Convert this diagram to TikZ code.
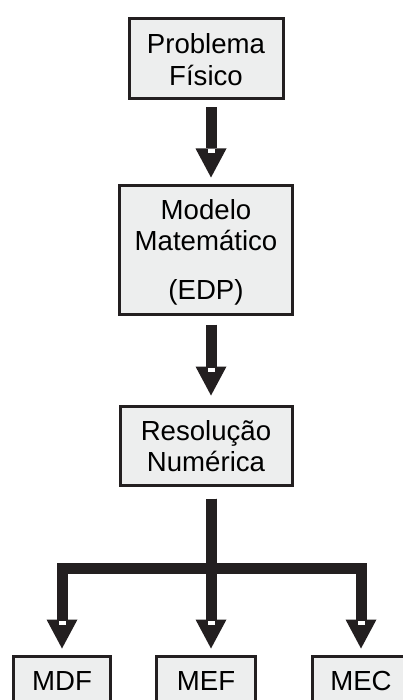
\documentclass[tikz,border=0pt]{standalone}
\usepackage{fontspec}
\setmainfont{Liberation Sans}
\usetikzlibrary{arrows.meta,calc}
\definecolor{boxfill}{HTML}{EDEEEE}
\definecolor{ink}{HTML}{231F20}
\newcommand\drawnotch[2]{\fill[white] ($(#1)+(-3.5,-#2-28)$) rectangle ($(#1)+(3.5,-#2-24)$);}
\begin{document}
\begin{tikzpicture}[x=1pt,y=-1pt,
  box/.style={draw=ink, line width=3pt, fill=boxfill, align=center, inner sep=0pt,
    font=\fontsize{27.6}{31.5}\selectfont, text=black},
  fat/.style={draw=ink, line width=11pt, line cap=butt},
  fatarrow/.style={fat, -{Triangle[width=31pt,length=29pt,line width=0pt 0 0]}}]
\useasboundingbox (0,0) rectangle (403,700);
\clip (0,0) rectangle (403,700);
\node[box, minimum width=154pt, minimum height=80pt] (b1) at (206,58.5) {\rule{0pt}{22pt}Problema\\Físico};
\node[box, minimum width=173pt, minimum height=129pt] (b2) at (206,250) {\rule{0pt}{24pt}Modelo\\Matemático\\[17pt](EDP)};
\node[box, minimum width=172pt, minimum height=79pt] (b3) at (206,446) {Resolução\\Numérica};
\node[box, minimum width=97pt, minimum height=49pt] (mdf) at (62,681) {MDF};
\node[box, minimum width=99pt, minimum height=49pt] (mef) at (206,681) {MEF};
\node[box, minimum width=97pt, minimum height=49pt] (mec) at (361,681) {MEC};
\coordinate (ax) at (211,0);
\coordinate (j) at (211,568);
\draw[fatarrow, shorten <=7.5pt, shorten >=6.5pt] (b1.south -| ax) -- (b2.north -| ax);
\draw[fatarrow, shorten <=8.5pt, shorten >=9.5pt] (b2.south -| ax) -- (b3.north -| ax);
\draw[fatarrow, shorten <=11.5pt, shorten >=6.5pt] (b3.south -| ax) -- (j) -| (mdf.north);
\draw[fatarrow, shorten <=11.5pt, shorten >=6.5pt] (b3.south -| ax) -- (mef.north -| ax);
\draw[fatarrow, shorten <=11.5pt, shorten >=6.5pt] (b3.south -| ax) -- (j) -| (mec.north);
\coordinate (t1) at ($(b2.north -| ax)$);
\coordinate (t2) at ($(b3.north -| ax)$);
\coordinate (t3) at ($(mef.north -| ax)$);
\drawnotch{t1}{6.5}
\drawnotch{t2}{9.5}
\drawnotch{mdf.north}{6.5}
\drawnotch{t3}{6.5}
\drawnotch{mec.north}{6.5}
\end{tikzpicture}
\end{document}
